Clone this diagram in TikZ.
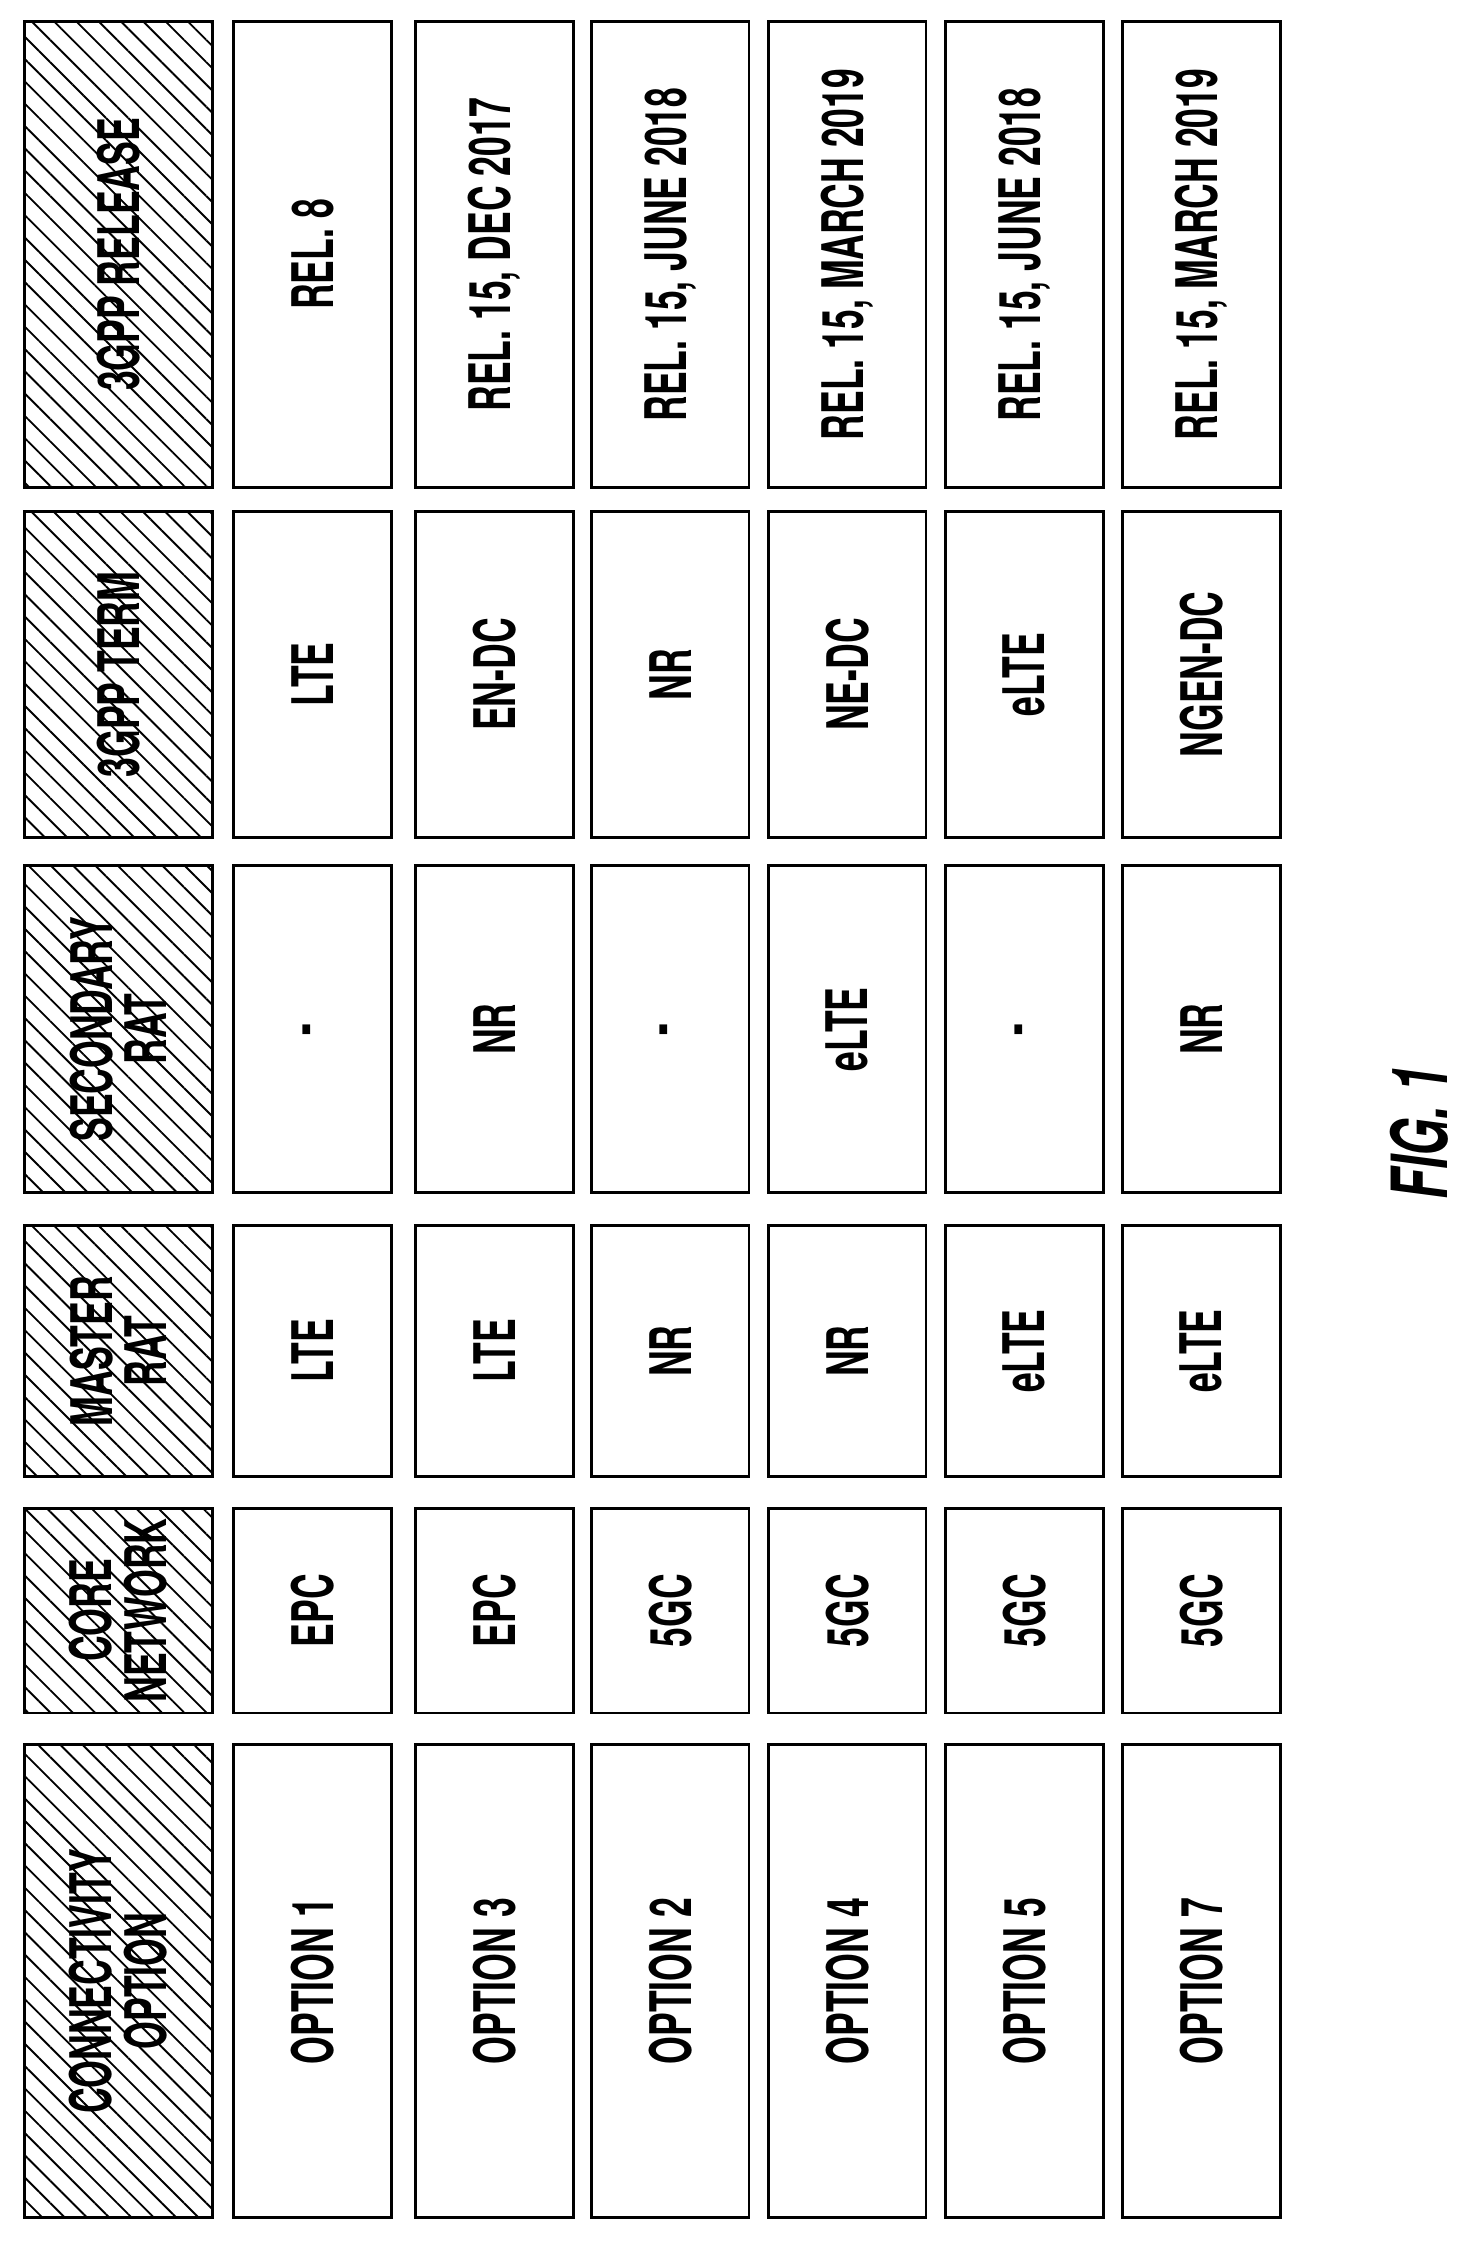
\documentclass[tikz,border=0pt]{standalone}
\usepackage{fontspec}
\setmainfont{TeX Gyre Heros}[FakeStretch=0.62]
\usetikzlibrary{patterns.meta}
\tikzset{
  cell/.style={draw, line width=2pt, rotate=90, inner sep=0pt,
    font=\bfseries\fontsize{40}{38}\selectfont, align=center},
  head/.style={cell, pattern={Lines[angle=135,distance=11pt,line width=1.3pt]}},
}
\begin{document}
\begin{tikzpicture}[x=1pt,y=-1pt]
\useasboundingbox (0,0) rectangle (1024,1564);
% column y-ranges: top/bottom
\foreach \c/\ya/\yb/\hd/\vals in {
  conn/1217/1547/{CONNECTIVITY\\OPTION}/{OPTION 1,OPTION 3,OPTION 2,OPTION 4,OPTION 5,OPTION 7},
  core/1052/1195/{CORE\\NETWORK}/{EPC,EPC,5GC,5GC,5GC,5GC},
  mrat/855/1030/{MASTER\\RAT}/{LTE,LTE,NR,NR,eLTE,eLTE},
  srat/604/832/{SECONDARY\\RAT}/{-,NR,-,eLTE,-,NR},
  term/357/584/{3GPP TERM}/{LTE,EN-DC,NR,NE-DC,eLTE,NGEN-DC},
  rel/15/340/{3GPP RELEASE}/{REL. 8,{REL. 15, DEC 2017},{REL. 15, JUNE 2018},{REL. 15, MARCH 2019},{REL. 15, JUNE 2018},{REL. 15, MARCH 2019}}}{
  \pgfmathsetmacro\ym{(\ya+\yb)/2}
  \pgfmathsetmacro\len{\yb-\ya}
  \node[head, minimum width=\len, minimum height=131] (\c-h) at (82.5,\ym) {\hd};
  \foreach \v [count=\i] in \vals {
    \pgfmathsetmacro\xm{{218,345,467.5,591,714.5,838}[\i-1]}
    \node[cell, minimum width=\len, minimum height=110] (\c-\i) at (\xm,\ym) {\v};
  }
}
\node[rotate=90, font=\bfseries\itshape\fontsize{54}{54}\selectfont] (fig) at (990,790) {FIG. 1};
\end{tikzpicture}
\end{document}
